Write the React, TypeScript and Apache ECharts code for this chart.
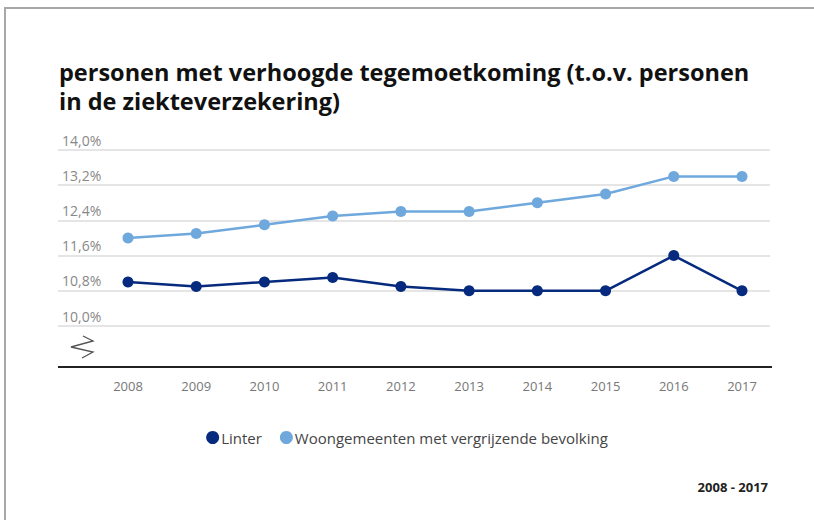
import React, { useEffect, useRef } from "react";
import * as echarts from "echarts";

const years = ["2008", "2009", "2010", "2011", "2012", "2013", "2014", "2015", "2016", "2017"];
const linter = [11.0, 10.9, 11.0, 11.1, 10.9, 10.8, 10.8, 10.8, 11.6, 10.8];
const woongemeenten = [12.0, 12.1, 12.3, 12.5, 12.6, 12.6, 12.8, 13.0, 13.4, 13.4];
const seriesNames = ["Linter", "Woongemeenten met vergrijzende bevolking"];
const titleLines = ["personen met verhoogde tegemoetkoming (t.o.v. personen", "in de ziekteverzekering)"];
const periodText = "2008 - 2017";
const yMin = 10.0;
const yMax = 14.0;
const yStep = 0.8;

const FONT = "'Open Sans', 'Noto Sans', sans-serif";

export default function App() {
  const ref = useRef<HTMLDivElement>(null);
  useEffect(() => {
    if (!ref.current) return;
    const chart = echarts.init(ref.current, null, { renderer: "svg" });
    const fmt = (v: number) => v.toFixed(1).replace(".", ",") + "%";
    chart.setOption({
      animation: false,
      backgroundColor: "#ffffff",
      textStyle: { fontFamily: FONT },
      legend: {
        data: seriesNames,
        left: "center",
        top: 425,
        icon: "circle",
        itemWidth: 13,
        itemHeight: 13,
        itemGap: 18,
        textStyle: { fontFamily: FONT, fontSize: 15, color: "#444444", padding: [0, 0, 0, -3] },
      },
      grid: [
        { left: 58, right: 44, top: 150, bottom: 194 },
        { left: 128, right: 72, top: 150, bottom: 194 },
      ],
      xAxis: [
        { type: "value", gridIndex: 0, show: false, min: 0, max: 1 },
        {
          type: "category",
          gridIndex: 1,
          data: years,
          boundaryGap: false,
          axisLine: { show: false },
          axisTick: { show: false },
          splitLine: { show: false },
          axisLabel: { margin: 53, fontSize: 13, color: "#777777", fontFamily: FONT },
        },
      ],
      yAxis: [
        {
          type: "value",
          gridIndex: 0,
          min: yMin,
          max: yMax,
          interval: yStep,
          axisLine: { show: false },
          axisTick: { show: false },
          splitLine: { lineStyle: { color: "#dcdcdc", width: 1.5 } },
          axisLabel: {
            inside: true,
            margin: 4,
            verticalAlign: "bottom",
            padding: [0, 0, 3, 0],
            fontSize: 14,
            color: "#888888",
            fontFamily: FONT,
            formatter: fmt,
          },
        },
        { type: "value", gridIndex: 1, min: yMin, max: yMax, show: false },
      ],
      series: [
        {
          name: seriesNames[0],
          type: "line",
          xAxisIndex: 1,
          yAxisIndex: 1,
          data: linter,
          symbol: "circle",
          symbolSize: 11,
          color: "#062a7e",
          lineStyle: { width: 2.5, color: "#062a7e" },
          z: 3,
        },
        {
          name: seriesNames[1],
          type: "line",
          xAxisIndex: 1,
          yAxisIndex: 1,
          data: woongemeenten,
          symbol: "circle",
          symbolSize: 11,
          color: "#6fa8dc",
          lineStyle: { width: 2.5, color: "#6fa8dc" },
          z: 3,
        },
      ],
      graphic: [
        ...titleLines.map((t, i) => ({
          type: "text",
          x: 59,
          y: 71.5 + i * 29,
          style: {
            text: t,
            align: "left",
            verticalAlign: "middle",
            fontFamily: FONT,
            fontSize: 23.5,
            fontWeight: "bold",
            fill: "#111111",
          },
        })),
        {
          type: "line",
          shape: { x1: 58, y1: 367, x2: 772, y2: 367 },
          style: { stroke: "#222222", lineWidth: 2 },
        },
        {
          type: "polyline",
          shape: { points: [[83, 336], [93, 341], [71, 347], [93, 352], [82, 358]] },
          style: { stroke: "#555555", lineWidth: 1.3, fill: null },
        },
        {
          type: "text",
          x: 768,
          y: 487,
          style: {
            text: periodText,
            align: "right",
            verticalAlign: "middle",
            fontFamily: FONT,
            fontSize: 13,
            fontWeight: "bold",
            fill: "#222222",
          },
        },
      ],
    });
    return () => chart.dispose();
  }, []);
  return (
    <div style={{ position: "absolute", left: 0, top: 0, width: 814, height: 520, background: "#fff" }}>
      <div ref={ref} style={{ position: "absolute", left: 0, top: 0, width: 814, height: 520 }} />
      <div
        style={{
          position: "absolute",
          left: 4,
          top: 7,
          width: 810,
          height: 513,
          borderTop: "2px solid #a8a8a8",
          borderLeft: "2px solid #a8a8a8",
          boxSizing: "border-box",
          pointerEvents: "none",
        }}
      />
    </div>
  );
}
